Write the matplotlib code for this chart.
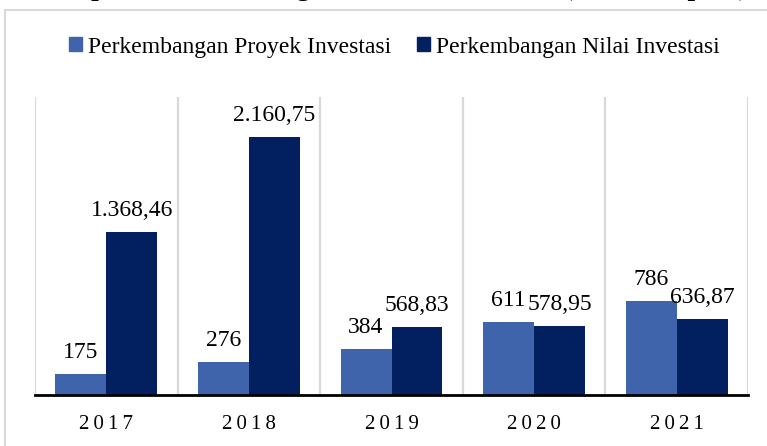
import matplotlib.pyplot as plt
from matplotlib.patches import Patch, Rectangle
import numpy as np

# realisasi investasi per tahun
tahun = ["2017", "2018", "2019", "2020", "2021"]
proyek = [175, 276, 384, 611, 786]
nilai = [1368.46, 2160.75, 568.83, 578.95, 636.87]
label_proyek = ["175", "276", "384", "611", "786"]
label_nilai = ["1.368,46", "2.160,75", "568,83", "578,95", "636,87"]

warna_proyek = "#4064AC"
warna_nilai = "#022060"
font = ["Liberation Serif", "DejaVu Serif"]

plt.rcParams["font.family"] = font

fig = plt.figure(figsize=(7.67, 4.46), dpi=100)
ax = fig.add_axes([35 / 767, 1 - 395 / 446, 713 / 767, 298 / 446])

x = np.arange(len(tahun))
w = 0.357
b1 = ax.bar(x - w / 2, proyek, w, color=warna_proyek, zorder=3)
b2 = ax.bar(x + w / 2, nilai, w, color=warna_nilai, zorder=3)

for bars, labels in ((b1, label_proyek), (b2, label_nilai)):
    for r, t in zip(bars, labels):
        ax.annotate(t, (r.get_x() + r.get_width() / 2, r.get_height()),
                    xytext=(0, 11.5), textcoords="offset points",
                    ha="center", va="baseline", fontsize=17, color="black")

ax.set_xlim(-0.5, len(tahun) - 0.5)
ax.set_ylim(0, 2500)
for g in np.arange(-0.5, len(tahun), 1.0):
    ax.axvline(g, color="#d9d9d9", lw=1.6, zorder=1)

ax.set_yticks([])
ax.set_xticks(x)
ax.set_xticklabels(["\u2009".join(t) for t in tahun], fontsize=15)
ax.tick_params(axis="x", length=0, pad=14.5)
for s in ("top", "left", "right"):
    ax.spines[s].set_visible(False)
ax.spines["bottom"].set_linewidth(2)
ax.spines["bottom"].set_zorder(4)

fig.legend(handles=[Patch(color=warna_proyek, label="Perkembangan Proyek Investasi"),
                    Patch(color=warna_nilai, label="Perkembangan Nilai Investasi")],
           loc="center", bbox_to_anchor=(394 / 767, 1 - 47 / 446), ncol=2,
           frameon=False, fontsize=17, handlelength=0.55, handleheight=0.55,
           handletextpad=0.25, columnspacing=1.1, borderpad=0)

# bingkai area grafik
fig.patches.append(Rectangle((4.5 / 767, -0.1), 1.2, 1.1 - 10 / 446, transform=fig.transFigure,
                             fill=False, edgecolor="#d9d9d9", lw=1.5))

fig.text(748 / 767, 1 + 4.5 / 446, "Capaian Perkembangan Realisasi Investasi (Miliar Rupiah)",
         ha="right", va="baseline", fontsize=19.5, fontweight="bold")

fig.savefig("out.png", dpi=100)
